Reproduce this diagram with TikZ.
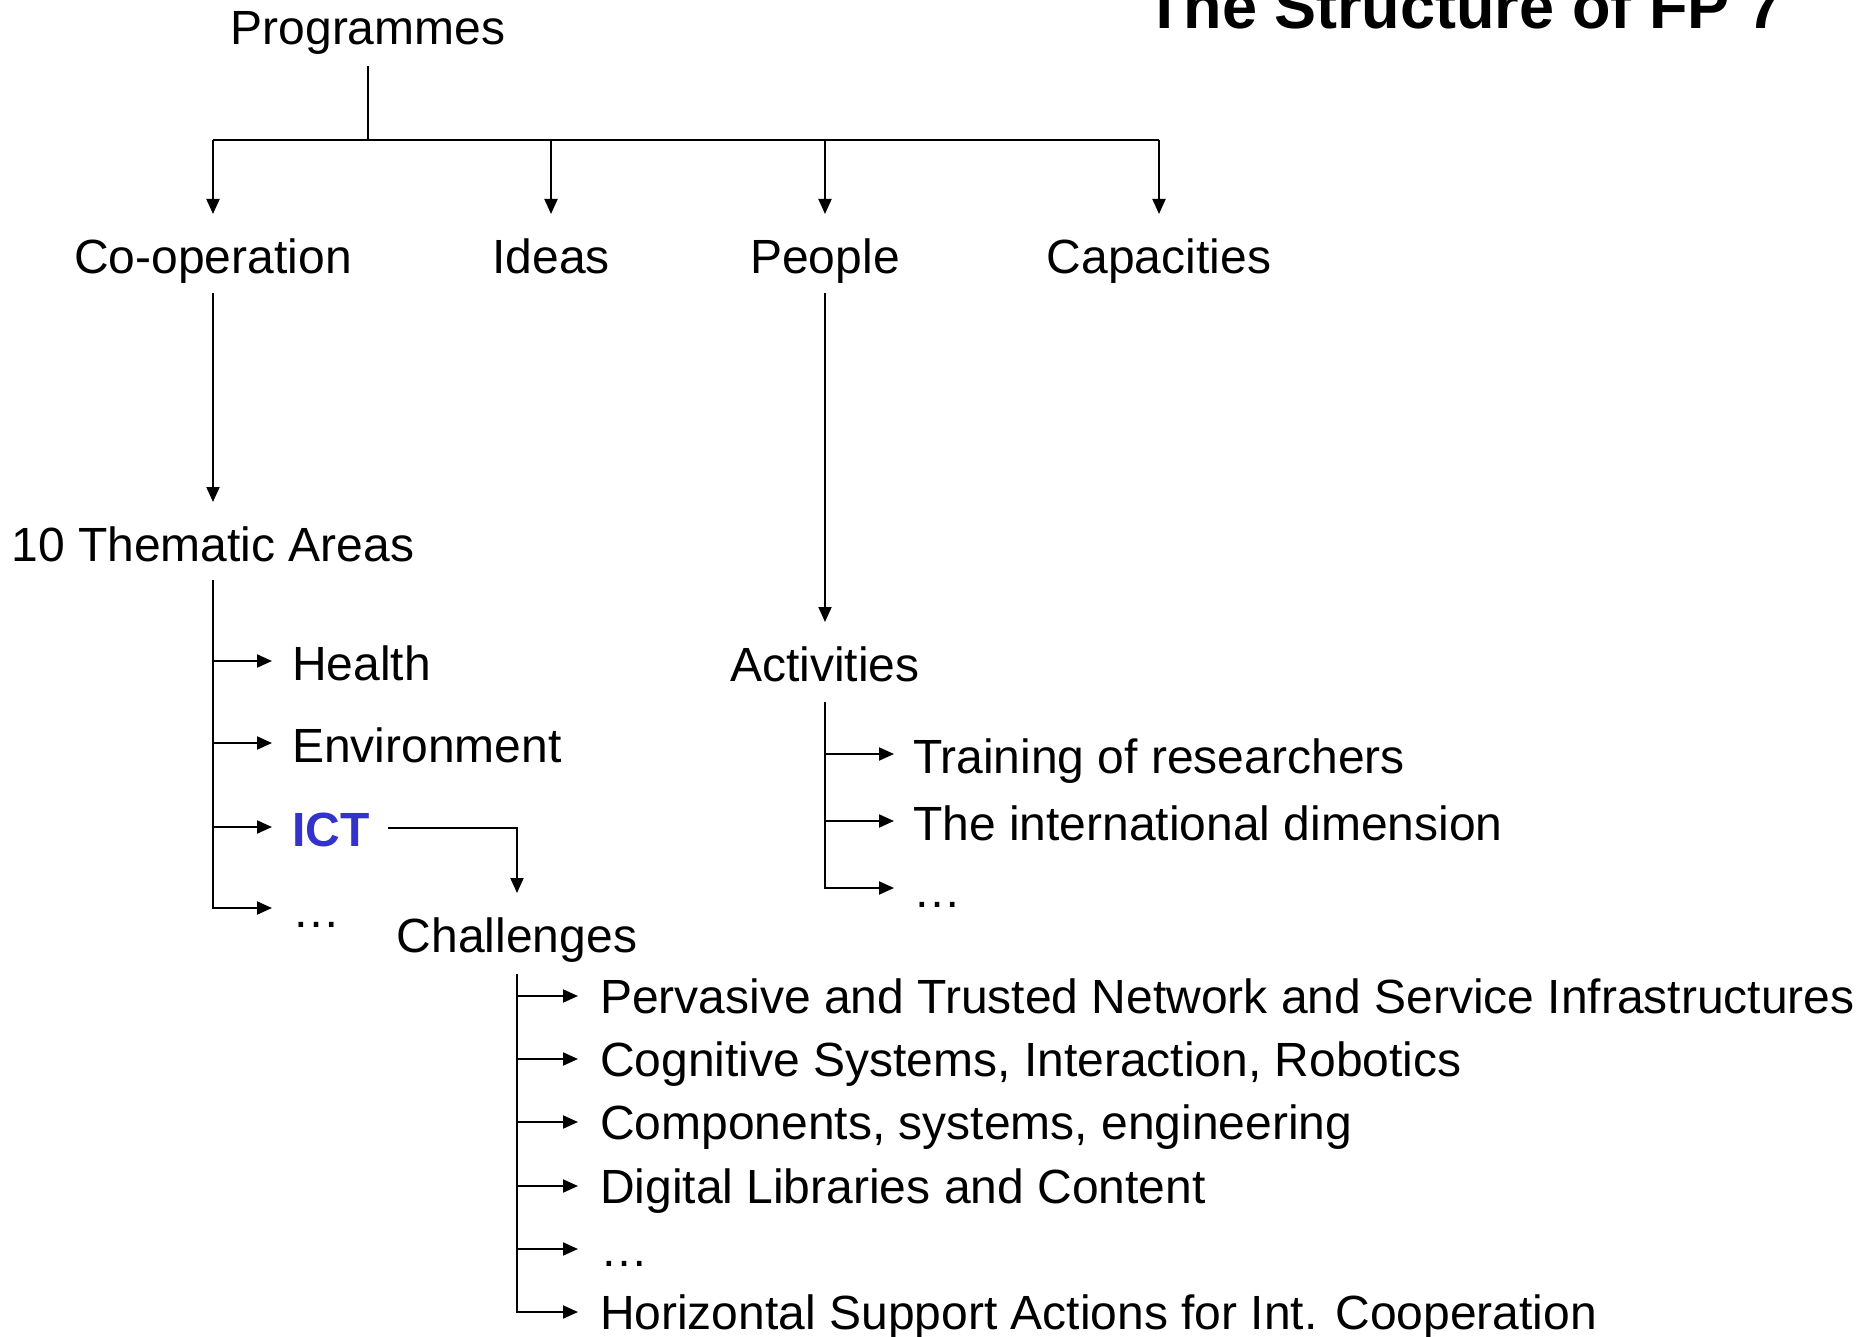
\documentclass[tikz,border=0pt]{standalone}
\usepackage{fontspec}
\setmainfont{Liberation Sans}
\usetikzlibrary{arrows.meta,calc}
\definecolor{ictblue}{RGB}{51,51,204}
\begin{document}
\begin{tikzpicture}[x=0.5pt,y=-0.5pt,
  txt/.style={inner sep=0pt,outer sep=0pt,font=\fontsize{24}{28}\selectfont},
  ttl/.style={inner sep=0pt,outer sep=0pt,font=\fontsize{31.5}{36}\selectfont\bfseries},
  link/.style={line width=1pt},
  arr/.style={line width=1pt,-{Triangle[length=7.5pt,width=6.5pt]}}]
\useasboundingbox (0,0) rectangle (1874,1337);

% title
\node[ttl,anchor=base west] (title) at (1145,29) {The Structure of FP 7};

% top level and programmes
\node[txt,anchor=base] (prog)   at (368,45)   {Programmes};
\node[txt,anchor=base] (coop)   at (213,274)  {Co-operation};
\node[txt,anchor=base] (ideas)  at (551,274)  {Ideas};
\node[txt,anchor=base] (people) at (825,274)  {People};
\node[txt,anchor=base] (cap)    at (1159,274) {Capacities};

\coordinate (bar) at ($(prog.base)+(0,95)$);
\draw[link] ($(prog.base)+(0,21)$) -- (bar);
\draw[link] (coop.base |- bar) -- (cap.base |- bar);
\foreach \n in {coop,ideas,people,cap}
  \draw[arr] (\n.base |- bar) -- ($(\n.base)+(0,-60)$);

% second level
\node[txt,anchor=base] (them) at (213,561) {10 Thematic Areas};
\node[txt,anchor=base] (act)  at (825,681) {Activities};
\draw[arr] ($(coop.base)+(0,19)$) -- ($(them.base)+(0,-59)$);
\draw[arr] ($(people.base)+(0,19)$) -- ($(act.base)+(0,-59)$);

% thematic areas
\node[txt,anchor=base west] (health) at (292,680) {Health};
\node[txt,anchor=base west] (env)    at (292,762) {Environment};
\node[txt,anchor=base west,text=ictblue,font=\fontsize{24}{28}\selectfont\bfseries] (ict) at (292,846) {ICT};
\node[txt,anchor=base west] (tdots)  at (292,927) {…};
\coordinate (ttop) at ($(them.base)+(0,19)$);
\foreach \n in {health,env,ict,tdots}
  \coordinate (\n-in) at ($(\n.base west)+(-20,-19)$);
\draw[arr] (ttop) |- (tdots-in);
\foreach \n in {health,env,ict}
  \draw[arr] (ttop |- \n-in) -- (\n-in);

% activities
\node[txt,anchor=base west] (train) at (913,773) {Training of researchers};
\node[txt,anchor=base west] (intl)  at (913,840) {The international dimension};
\node[txt,anchor=base west] (adots) at (913,907) {…};
\coordinate (atop) at ($(act.base)+(0,21)$);
\foreach \n in {train,intl,adots}
  \coordinate (\n-in) at ($(\n.base west)+(-19,-19)$);
\draw[arr] (atop) |- (adots-in);
\foreach \n in {train,intl}
  \draw[arr] (atop |- \n-in) -- (\n-in);

% ICT challenges
\node[txt,anchor=base] (chal) at (517,952) {Challenges};
\draw[arr] ($(ict.base east)+(19,-18)$) -| ($(chal.base)+(0,-59)$);

\node[txt,anchor=base west] (c1) at (600,1013) {Pervasive and Trusted Network and Service Infrastructures};
\node[txt,anchor=base west] (c2) at (600,1076) {Cognitive Systems, Interaction, Robotics};
\node[txt,anchor=base west] (c3) at (600,1139) {Components, systems, engineering};
\node[txt,anchor=base west] (c4) at (600,1203) {Digital Libraries and Content};
\node[txt,anchor=base west] (c5) at (600,1266) {…};
\node[txt,anchor=base west] (c6) at (600,1329) {Horizontal Support Actions for Int. Cooperation};
\coordinate (ctop) at ($(chal.base)+(0,22)$);
\foreach \n in {c1,c2,c3,c4,c5,c6}
  \coordinate (\n-in) at ($(\n.base west)+(-22,-17)$);
\draw[arr] (ctop) |- (c6-in);
\foreach \n in {c1,c2,c3,c4,c5}
  \draw[arr] (ctop |- \n-in) -- (\n-in);
\end{tikzpicture}
\end{document}
